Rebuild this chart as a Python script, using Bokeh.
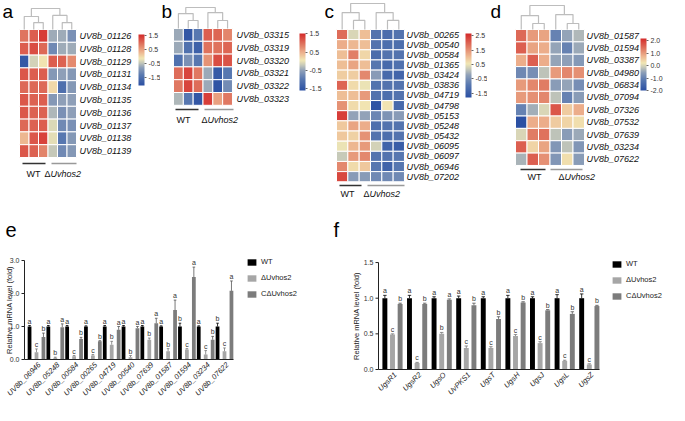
import math
import numpy as np
from bokeh.plotting import figure
from bokeh.models import (Range1d, LinearColorMapper, ColorBar, FixedTicker, PrintfTickFormatter,
                          Legend, LegendItem, ColumnDataSource)
from bokeh.layouts import column, row
from bokeh.core.properties import value
from bokeh.embed import file_html
from bokeh.resources import INLINE

FONT = "Liberation Sans"

# ---------------- data: heatmaps (z-scores, columns WT1..3, dUvhos2 1..3) ----------------
genes_a = ["UV8b_01126", "UV8b_01128", "UV8b_01129", "UV8b_01131", "UV8b_01134",
           "UV8b_01135", "UV8b_01136", "UV8b_01137", "UV8b_01138", "UV8b_01139"]
z_a = [[0.9, 1.1, 1.4, -0.7, -0.7, -1.0],
       [1.1, 1.25, 1.0, -1.1, -0.7, -0.7],
       [-1.9, -0.35, -0.1, 1.1, 1.05, 0.7],
       [1.15, 1.1, 1.1, -0.9, -0.8, -0.9],
       [1.0, 1.0, 1.0, 0.0, -1.5, -0.9],
       [1.15, 1.05, 1.1, -0.9, -0.8, -0.8],
       [1.15, 1.05, 1.05, -0.6, -1.0, -0.8],
       [1.0, 1.05, 1.1, -0.3, -1.1, -1.0],
       [0.3, 1.15, 1.35, -0.25, -1.35, -0.9],
       [1.15, 1.05, 0.75, -0.45, -1.1, -0.9]]
ticks_a = [-1.5, -0.5, 0.5, 1.5]
dend_a = [0.33, 0.62, 0.33, 0.67, 1.0]

genes_b = ["UV8b_03315", "UV8b_03319", "UV8b_03320", "UV8b_03321", "UV8b_03322", "UV8b_03323"]
z_b = [[-0.45, -1.5, -1.0, 1.1, 1.05, 0.8],
       [-0.45, -1.1, -1.35, 0.95, 0.95, 1.05],
       [-1.1, -0.7, -1.0, 0.7, 1.25, 1.2],
       [1.0, 1.3, 0.9, -0.45, -1.45, -1.0],
       [0.9, 1.3, 1.0, -0.45, -1.55, -0.75],
       [-0.35, -1.0, -1.5, 1.35, 0.6, 0.9]]
ticks_b = [-1.5, -0.5, 0.5, 1.5]
dend_b = [0.38, 0.71, 0.38, 0.76, 1.0]

genes_c = ["UV8b_00265", "UV8b_00540", "UV8b_00584", "UV8b_01365", "UV8b_03424",
           "UV8b_03836", "UV8b_04719", "UV8b_04798", "UV8b_05153", "UV8b_05248",
           "UV8b_05432", "UV8b_06095", "UV8b_06097", "UV8b_06946", "UV8b_07202"]
z_c = [[1.9, 0.35, 1.0, -1.0, -1.15, -1.0],
       [1.2, 1.1, 1.0, -1.0, -1.1, -1.1],
       [1.0, 1.7, 0.75, -1.15, -1.0, -1.0],
       [1.0, 1.3, 1.0, -0.9, -1.2, -1.05],
       [0.85, 0.85, 1.6, -0.3, -1.2, -1.3],
       [2.0, 0.7, 0.5, -1.0, -1.0, -1.0],
       [1.0, 1.0, 1.4, -1.0, -1.1, -1.0],
       [1.5, 0.7, 0.6, -1.7, 0.6, -1.2],
       [2.4, -0.2, -0.2, -0.65, -0.45, -0.3],
       [0.9, 1.3, 1.2, -1.1, -1.0, -1.0],
       [0.9, 0.8, 1.5, -1.0, -1.1, -1.0],
       [0.5, 1.1, 1.4, 0.3, -1.35, -1.5],
       [0.2, 1.4, 1.6, -1.0, -1.0, -0.9],
       [1.6, 0.7, 0.9, -0.9, -1.35, -0.9],
       [2.3, -0.3, -0.3, -0.6, -0.6, -0.6]]
ticks_c = [-1.5, -0.5, 0.5, 1.5, 2.5]
dend_c = [0.35, 0.65, 0.35, 0.65, 1.0]

genes_d = ["UV8b_01587", "UV8b_01594", "UV8b_03387", "UV8b_04980", "UV8b_06834", "UV8b_07094",
           "UV8b_07326", "UV8b_07532", "UV8b_07639", "UV8b_03234", "UV8b_07622"]
z_d = [[1.5, 1.0, 0.9, -1.0, -0.5, -0.3],
       [1.6, 0.9, 0.8, -0.5, -1.0, -0.45],
       [0.8, 1.6, 0.8, -0.5, -0.55, -0.65],
       [-0.9, -0.8, -0.2, 1.0, 1.2, 1.1],
       [1.0, 1.2, 1.3, -0.6, -0.5, -0.8],
       [1.0, 1.1, 1.2, -0.2, -1.0, -0.6],
       [-1.0, -0.4, 0.0, 1.7, 0.5, 0.8],
       [-2.0, 0.8, 0.8, 0.5, 0.4, 0.3],
       [0.0, 1.3, 1.4, -0.2, -0.6, -0.45],
       [1.6, 0.4, 0.9, -0.7, -0.2, -0.7],
       [-0.35, 1.6, 1.1, -0.7, 0.3, -0.6]]
ticks_d = [-2.0, -1.0, 0.0, 1.0, 2.0]
dend_d = [0.25, 0.58, 0.25, 0.62, 1.0]

# ---------------- data: qPCR bars ----------------
strains = ["WT", "\u0394Uvhos2", "C\u0394Uvhos2"]
genes_e = ["UV8b_06946", "UV8b_05248", "UV8b_00584", "UV8b_00265", "UV8b_04719", "UV8b_00540",
           "UV8b_07639", "UV8b_01587", "UV8b_01594", "UV8b_03234", "UV8b_07622"]
wt_e = [1.0, 1.0, 1.0, 1.0, 1.0, 1.0, 1.0, 1.0, 1.0, 1.0, 1.0]
wt_e_err = [0.03, 0.03, 0.03, 0.02, 0.03, 0.03, 0.03, 0.02, 0.10, 0.02, 0.10]
mut_e = [0.22, 0.05, 0.10, 0.12, 0.45, 0.07, 0.60, 0.25, 0.30, 0.15, 0.25]
mut_e_err = [0.10, 0.02, 0.02, 0.03, 0.10, 0.05, 0.05, 0.08, 0.03, 0.12, 0.10]
comp_e = [0.68, 0.98, 0.62, 0.55, 0.90, 0.95, 1.10, 1.50, 2.50, 0.60, 2.08]
comp_e_err = [0.12, 0.10, 0.05, 0.02, 0.10, 0.05, 0.15, 0.30, 0.30, 0.10, 0.30]
wt_e_sig = ["a", "a", "a", "a", "a", "a", "a", "a", "b", "a", "b"]
mut_e_sig = ["c", "b", "c", "c", "b", "b", "b", "b", "c", "c", "c"]
comp_e_sig = ["b", "a", "b", "b", "a", "a", "a", "a", "a", "b", "a"]
yticks_e = [0.0, 1.0, 2.0, 3.0]

genes_f = ["UgsR1", "UgsR2", "UgsO", "UvPKS1", "UgsT", "UgsH", "UgsJ", "UgsL", "UgsZ"]
wt_f = [1.0, 1.0, 1.0, 1.0, 1.0, 1.0, 1.0, 1.0, 1.0]
wt_f_err = [0.04, 0.04, 0.02, 0.03, 0.02, 0.04, 0.02, 0.05, 0.06]
mut_f = [0.49, 0.09, 0.50, 0.30, 0.30, 0.47, 0.37, 0.12, 0.07]
mut_f_err = [0.01, 0.01, 0.02, 0.03, 0.02, 0.02, 0.02, 0.01, 0.01]
comp_f = [0.92, 0.92, 0.98, 0.90, 0.71, 0.94, 0.83, 0.78, 0.89]
comp_f_err = [0.01, 0.01, 0.01, 0.03, 0.03, 0.01, 0.01, 0.03, 0.01]
wt_f_sig = ["a", "a", "a", "a", "a", "a", "a", "a", "a"]
mut_f_sig = ["c", "c", "b", "c", "c", "c", "c", "c", "c"]
comp_f_sig = ["b", "b", "a", "b", "b", "b", "b", "b", "b"]
yticks_f = [0.0, 0.5, 1.0, 1.5]

# ---------------- palette ----------------
ANCHORS = [(0.0, "#2B50A3"), (0.2, "#5878B0"), (0.35, "#8E9FB8"), (0.45, "#C9CBB9"),
           (0.53, "#F1E7B4"), (0.66, "#EDB38E"), (0.8, "#E07A63"), (1.0, "#D42A2A")]


def build_palette(anchors, n=256):
    pos = [a[0] for a in anchors]
    rgb = [tuple(int(a[1][i:i + 2], 16) for i in (1, 3, 5)) for a in anchors]
    t = np.linspace(0, 1, n)
    ch = [np.interp(t, pos, [c[k] for c in rgb]) for k in range(3)]
    return ["#%02x%02x%02x" % (int(round(r)), int(round(g)), int(round(b))) for r, g, b in zip(*ch)]


PALETTE = build_palette(ANCHORS)


def heatmap(W, H, genes, z, lo, hi, ticks, dend, letter, left, top, cw, rh, letter_xy,
            dend_top, gene_x, cb_x, cb_top, cb_len, wt_bar, mut_bar, bar_y, wt_cx, mut_x0, lab_y):
    x0 = -0.5 - left / cw
    x1 = x0 + W / cw
    y1 = 0.5 + top / rh
    y0 = y1 - H / rh
    X = lambda px: x0 + px / cw
    Y = lambda py: y1 - py / rh
    p = figure(width=W, height=H, x_range=Range1d(x0, x1), y_range=Range1d(y0, y1),
               x_axis_location=None, y_axis_location=None, toolbar_location=None,
               output_backend="svg", min_border=0, outline_line_color=None)
    p.grid.visible = False
    mapper = LinearColorMapper(palette=PALETTE, low=lo, high=hi)
    cs, rs, vs = [], [], []
    for r, rowv in enumerate(z):
        for c, v in enumerate(rowv):
            cs.append(c)
            rs.append(-r)
            vs.append(v)
    src = ColumnDataSource(dict(c=cs, r=rs, z=vs))
    p.rect(x="c", y="r", width=1, height=1, source=src,
           fill_color={"field": "z", "transform": mapper}, line_color="white", line_width=1)
    # dendrogram
    hpx = top - dend_top
    h = [0.5 + v * hpx / rh for v in dend]
    b = 0.5
    xs = [[1, 1, 2, 2], [0, 0, 1.5, 1.5], [4, 4, 5, 5], [3, 3, 4.5, 4.5], [0.75, 0.75, 3.75, 3.75]]
    ys = [[b, h[0], h[0], b], [b, h[1], h[1], h[0]], [b, h[2], h[2], b], [b, h[3], h[3], h[2]],
          [h[1], h[4], h[4], h[3]]]
    p.multi_line(xs=xs, ys=ys, line_color="#BDBDBD", line_width=1.2)
    # gene labels
    p.text(x=[X(gene_x)] * len(genes), y=[-i for i in range(len(genes))], text=genes,
           text_font=value(FONT), text_font_style="italic", text_font_size="9px",
           text_baseline="middle", text_align="left", text_color="#111111")
    # panel letter
    p.text(x=[X(letter_xy[0])], y=[Y(letter_xy[1])], text=[letter], text_font=value(FONT),
           text_font_size="19px", text_baseline="alphabetic", text_color="#000000")
    # group bars and labels
    p.segment(x0=[X(wt_bar[0]), X(mut_bar[0])], x1=[X(wt_bar[1]), X(mut_bar[1])],
              y0=[Y(bar_y)] * 2, y1=[Y(bar_y)] * 2, line_color=["#333333", "#999999"], line_width=1.3)
    p.text(x=[X(wt_cx)], y=[Y(lab_y)], text=["WT"], text_font=value(FONT), text_font_size="9px",
           text_align="center", text_baseline="middle", text_color="#111111")
    p.text(x=[X(mut_x0)], y=[Y(lab_y)], text=["\u0394"], text_font=value(FONT), text_font_size="9px",
           text_align="left", text_baseline="middle", text_color="#111111")
    p.text(x=[X(mut_x0 + 6)], y=[Y(lab_y)], text=["Uvhos2"], text_font=value(FONT),
           text_font_style="italic", text_font_size="9px",
           text_align="left", text_baseline="middle", text_color="#111111")
    cb = ColorBar(color_mapper=mapper, ticker=FixedTicker(ticks=ticks),
                  formatter=PrintfTickFormatter(format="%.1f"), width=6, height=cb_len,
                  location=(cb_x, H - (cb_top + cb_len)), padding=0, margin=0,
                  major_tick_in=0, major_tick_out=2, major_tick_line_color="#666666",
                  minor_tick_line_color=None, label_standoff=2,
                  major_label_text_font_size="7px", major_label_text_font=FONT,
                  major_label_text_color="#333333", bar_line_color=None,
                  border_line_color=None, background_fill_alpha=0)
    p.add_layout(cb)
    return p


TH = 199  # top row height
pa = heatmap(160, TH, genes_a, z_a, -2.07, 1.57, ticks_a, dend_a, "a", 19, 29, 9.5, 12.8, (2, 11),
             8, 79, 138, 34, 51, (22, 45), (51, 76), 163, 33, 44, 173)
pb = heatmap(163, TH, genes_b, z_b, -1.62, 1.52, ticks_b, dend_b, "b", 13, 28, 9.83, 12.8, (1, 11),
             7, 76, 139, 33, 57, (15, 38), (44, 73), 109, 23, 41, 119)
pc = heatmap(164, TH, genes_c, z_c, -1.78, 2.64, ticks_c, dend_c, "c", 13, 29, 11.33, 10.15, (1, 11),
             3, 83, 142, 33, 64, (16, 38), (44, 81), 185, 24, 40, 193)
pd = heatmap(176, TH, genes_d, z_d, -2.0, 2.16, ticks_d, dend_d, "d", 28, 29, 11.5, 12.36, (3, 11),
             5, 99, 153, 38, 52, (33, 58), (63, 95), 169, 47, 71, 176)

BAR_COLORS = ["#000000", "#A6A6A6", "#7C7C7C"]
ERR_COLORS = ["#000000", "#777777", "#555555"]
AX = "#222222"


def bars(W, H, genes, series, errs, sigs, yticks, letter, axis_px, ylab_px, step, first_px, off, bw,
         zero_px, unit_px, x_axis_end_px, legend_px, letter_xy):
    n = len(genes)
    x0 = -first_px / step
    x1 = x0 + W / step
    y1 = zero_px / unit_px
    y0 = -(H - zero_px) / unit_px
    XP = lambda px: x0 + px / step
    YP = lambda py: (zero_px - py) / unit_px
    p = figure(width=W, height=H, x_range=Range1d(x0, x1), y_range=Range1d(y0, y1),
               x_axis_location=None, y_axis_location=None,
               toolbar_location=None, output_backend="svg", min_border=0, outline_line_color=None)
    p.grid.visible = False
    rends = []
    offs = [-off, 0.0, off]
    for k in range(3):
        xs = [i + offs[k] for i in range(n)]
        vals = series[k]
        tops = [v + e for v, e in zip(vals, errs[k])]
        src = ColumnDataSource(dict(x=xs, top=vals, etop=tops, sig=sigs[k],
                                    cl=[x - 0.07 for x in xs], cr=[x + 0.07 for x in xs]))
        r = p.vbar(x="x", top="top", width=bw, source=src, fill_color=BAR_COLORS[k], line_color=None)
        rends.append(r)
        p.segment(x0="x", y0="top", x1="x", y1="etop", source=src, line_color=ERR_COLORS[k], line_width=0.8)
        p.segment(x0="cl", y0="etop", x1="cr", y1="etop", source=src, line_color=ERR_COLORS[k], line_width=0.8)
        p.text(x="x", y="etop", text="sig", source=src, text_font=value(FONT), text_font_size="7px",
               text_align="center", text_baseline="bottom", y_offset=-1, text_color="#333333")
    # axes: lines and ticks
    ax = XP(axis_px)
    p.segment(x0=[ax, ax], y0=[yticks[0], 0.0], x1=[ax, XP(x_axis_end_px)], y1=[yticks[-1], 0.0],
              line_color=AX, line_width=1)
    p.segment(x0=[ax] * len(yticks), y0=yticks, x1=[XP(axis_px - 3)] * len(yticks), y1=yticks,
              line_color=AX, line_width=1)
    # y tick labels and title
    p.text(x=[ax] * len(yticks), y=yticks, text=["%.1f" % t for t in yticks], x_offset=-5,
           text_font=value(FONT), text_font_size="7px", text_align="right", text_baseline="middle",
           text_color="#333333")
    p.text(x=[XP(ylab_px)], y=[(yticks[0] + yticks[-1]) / 2], text=["Relative mRNA level (fold)"],
           angle=math.pi / 2, text_font=value(FONT), text_font_size="7.5px", text_align="center",
           text_baseline="middle", text_color="#222222")
    # category labels under the x axis
    p.text(x=list(range(n)), y=[0.0] * n, text=genes, angle=math.pi / 4, x_offset=3, y_offset=4,
           text_font=value(FONT), text_font_style="italic", text_font_size="7.5px",
           text_align="right", text_baseline="middle", text_color="#222222")
    leg = Legend(items=[LegendItem(label=strains[k], renderers=[rends[k]]) for k in range(3)],
                 location=(legend_px[0], H - legend_px[1]), padding=0, margin=0, spacing=7,
                 label_height=9, glyph_width=11, glyph_height=8, label_standoff=4,
                 label_text_font=FONT, label_text_font_size="7.5px", label_text_color="#222222",
                 border_line_color=None, background_fill_alpha=0)
    p.add_layout(leg)
    p.text(x=[XP(letter_xy[0])], y=[YP(letter_xy[1])], text=[letter], text_font=value(FONT),
           text_font_size="20px", text_baseline="alphabetic", text_color="#000000")
    return p


BH = 198  # bottom row height
pe = bars(329, BH, genes_e, [wt_e, mut_e, comp_e], [wt_e_err, mut_e_err, comp_e_err],
          [wt_e_sig, mut_e_sig, comp_e_sig], yticks_e, "e", 24, 9, 18.8, 36, 0.37, 0.2,
          160, 33.0, 233, (246, 99), (5, 30))
pf = bars(334, BH, genes_f, [wt_f, mut_f, comp_f], [wt_f_err, mut_f_err, comp_f_err],
          [wt_f_sig, mut_f_sig, comp_f_sig], yticks_f, "f", 49, 27, 24.6, 63, 0.31, 0.2,
          170, 71.3, 270, (282, 101), (4, 30))

layout = column(row(pa, pb, pc, pd), row(pe, pf))
open("out.html", "w").write(file_html(layout, INLINE))
